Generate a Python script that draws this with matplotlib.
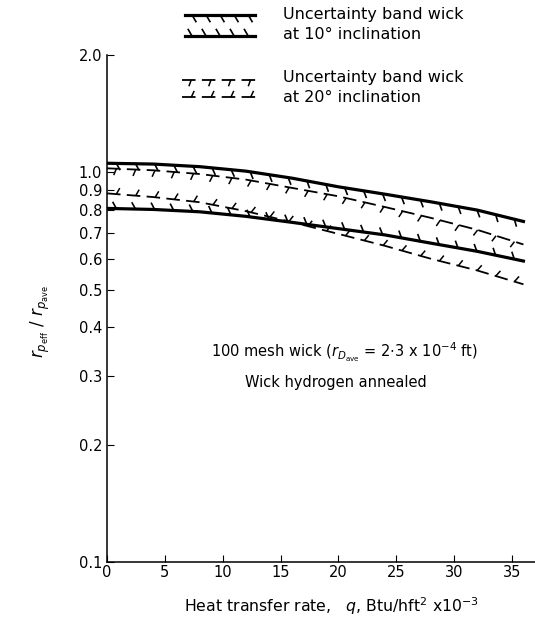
import matplotlib
matplotlib.use("Agg")
import matplotlib.pyplot as plt
import matplotlib.patheffects as pe
from matplotlib.lines import Line2D
from matplotlib.ticker import FixedLocator, NullLocator, NullFormatter

# heat transfer rate, Btu/hft^2 x 10^-3
q = [0, 4, 8, 12, 16, 20, 24, 28, 32, 36]
# uncertainty band, 10 deg inclination
incl10_upper = [1.055, 1.05, 1.034, 1.007, 0.966, 0.918, 0.879, 0.84, 0.80, 0.748]
incl10_lower = [0.808, 0.803, 0.792, 0.771, 0.744, 0.717, 0.691, 0.658, 0.627, 0.592]
# uncertainty band, 20 deg inclination
incl20_upper = [1.024, 1.012, 0.99, 0.958, 0.912, 0.868, 0.815, 0.764, 0.712, 0.653]
incl20_lower = [0.883, 0.864, 0.838, 0.795, 0.745, 0.695, 0.648, 0.60, 0.56, 0.516]

yticks = [0.1, 0.2, 0.3, 0.4, 0.5, 0.6, 0.7, 0.8, 0.9, 1.0, 2.0]
xticks = [0, 5, 10, 15, 20, 25, 30, 35]

plt.rcParams["font.family"] = ["DejaVu Sans"]


def ticked(angle, spacing=13.5, length=0.37, lw=1.1):
    # length is relative to spacing
    return [pe.Normal(),
            pe.TickedStroke(angle=angle, spacing=spacing, length=length,
                            linewidth=lw, dashes=dict(dash_offset=0, dash_list=None))]


fig = plt.figure(figsize=(5.35, 6.23), dpi=100)
ax = fig.add_axes([0.2, 0.0979, 0.80, 0.8138])

ax.plot(q, incl10_upper, color="black", lw=2.3, path_effects=ticked(-60, lw=1.2))
ax.plot(q, incl10_lower, color="black", lw=2.3, path_effects=ticked(120, lw=1.2))
ax.plot(q, incl20_upper, color="black", lw=1.3, dashes=(7.5, 3.5), path_effects=ticked(-110))
ax.plot(q, incl20_lower, color="black", lw=1.3, dashes=(7.5, 3.5), path_effects=ticked(65))

ax.set_yscale("log")
ax.set_ylim(0.1, 2.0)
ax.set_xlim(0, 37)
ax.yaxis.set_major_locator(FixedLocator(yticks))
ax.yaxis.set_minor_locator(NullLocator())
ax.yaxis.set_minor_formatter(NullFormatter())
ax.set_yticklabels([f"{v:.1f}" for v in yticks])
ax.set_xticks(xticks)
ax.tick_params(direction="in", length=5, width=0.8, labelsize=10.5)
ax.tick_params(axis="x", pad=2)
for s in ["top", "right"]:
    ax.spines[s].set_visible(False)
for s in ["left", "bottom"]:
    ax.spines[s].set_linewidth(1.1)

ax.text(0.554, 0.414, r"100 mesh wick ($r_{D_{\rm ave}}$ = 2$\cdot$3 x 10$^{-4}$ ft)",
        transform=ax.transAxes, ha="center", va="center", fontsize=10.5)
ax.text(0.535, 0.355, "Wick hydrogen annealed", transform=ax.transAxes,
        ha="center", va="center", fontsize=10.5)

fig.text(0.62, 0.027, r"Heat transfer rate,   $q$, Btu/hft$^2$ x10$^{-3}$",
         ha="center", va="center", fontsize=11.3)
fig.text(0.075, 0.484, r"$r_{p_{\rm eff}}\ /\ r_{p_{\rm ave}}$", rotation=90,
         ha="center", va="center", fontsize=12)

# legend drawn above the axes
fig.add_artist(Line2D([0.346, 0.477], [0.976, 0.976], color="black", lw=2.3,
                      path_effects=ticked(-60, spacing=10, length=0.55, lw=1.2)))
fig.add_artist(Line2D([0.346, 0.477], [0.942, 0.942], color="black", lw=2.3,
                      path_effects=ticked(120, spacing=10, length=0.55, lw=1.2)))
fig.add_artist(Line2D([0.34, 0.486], [0.872, 0.872], color="black", lw=1.3,
                      dashes=(7.5, 3.5), path_effects=ticked(-110, spacing=13.5)))
fig.add_artist(Line2D([0.34, 0.486], [0.844, 0.844], color="black", lw=1.3,
                      dashes=(7.5, 3.5), path_effects=ticked(65, spacing=13.5)))
fig.text(0.529, 0.977, "Uncertainty band wick", ha="left", va="center", fontsize=11.5)
fig.text(0.529, 0.944, "at 10° inclination", ha="left", va="center", fontsize=11.5)
fig.text(0.529, 0.876, "Uncertainty band wick", ha="left", va="center", fontsize=11.5)
fig.text(0.529, 0.843, "at 20° inclination", ha="left", va="center", fontsize=11.5)

fig.savefig("out.png", dpi=100)
